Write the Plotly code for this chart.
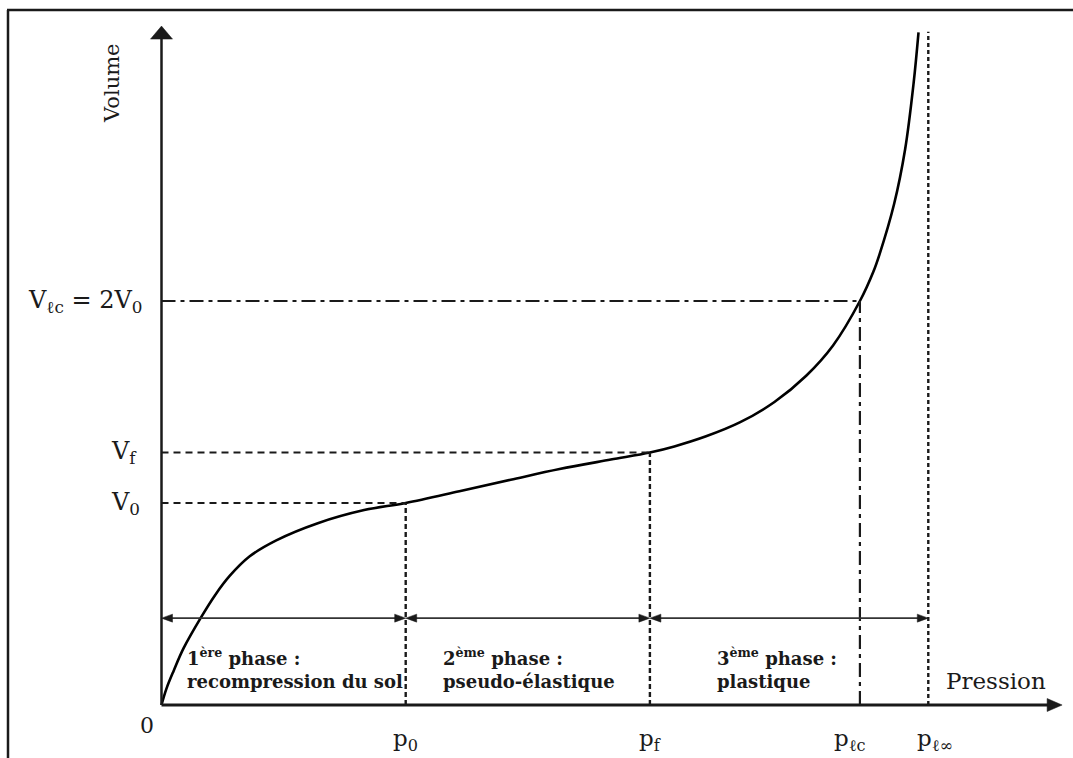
import plotly.graph_objects as go

# Courbe pressiométrique : volume injecté en fonction de la pression
pression = [0.00, 0.02, 0.05, 0.09, 0.16, 0.22, 0.28, 0.36, 0.47, 0.64, 0.83,
            1.00, 1.22, 1.43, 1.63, 1.84, 2.00, 2.10, 2.23, 2.37, 2.51, 2.64,
            2.75, 2.86, 2.915, 2.94, 3.00, 3.045, 3.08, 3.10]
volume = [0.00, 0.08, 0.17, 0.28, 0.43, 0.545, 0.64, 0.735, 0.815, 0.90, 0.965,
          1.00, 1.058, 1.115, 1.168, 1.215, 1.25, 1.28, 1.33, 1.40, 1.50, 1.63,
          1.78, 2.00, 2.145, 2.23, 2.48, 2.75, 3.08, 3.33]

# Pressions et volumes caractéristiques
P0, PF, PLC, PLINF = 1.00, 2.00, 2.86, 3.14
V0, VF, VLC = 1.00, 1.25, 2.00

p_labels = ["p<sub>0</sub>", "p<sub>f</sub>", "p<sub>ℓc</sub>", "p<sub>ℓ∞</sub>"]
v_labels = ["V<sub>0</sub>", "V<sub>f</sub>", "V<sub>ℓc</sub> = 2V<sub>0</sub>"]
phase_labels = ["1<sup>ère</sup> phase :<br>recompression du sol",
                "2<sup>ème</sup> phase :<br>pseudo-élastique",
                "3<sup>ème</sup> phase :<br>plastique"]
phase_bounds = [(0.0, P0), (P0, PF), (PF, PLINF)]

# Géométrie de la figure
W, H = 1073, 758
PX_X, PX_Y = 244.2, 202.0          # pixels par unité
ORX, ORY = 161.5, 705.0            # position de l'origine en pixels
X_RANGE = [-ORX / PX_X, (W - ORX) / PX_X]
Y_RANGE = [-(H - ORY) / PX_Y, ORY / PX_Y]

X_TIP = 3.688      # extrémité de la flèche de l'axe des pressions
Y_TIP = 3.361      # extrémité de la flèche de l'axe des volumes
V_PHASE = 0.43     # hauteur des flèches de phases
INK = "#1a1a1a"

serif = "DejaVu Serif"


def tri(xt, yt, dx, dy, length, half):
    """Triangle plein, pointe en (xt, yt), direction (dx, dy) en pixels (dy vers le haut)."""
    bx, by = -dx * length, -dy * length
    pts = [(0, 0), (bx - dy * half, by + dx * half), (bx + dy * half, by - dx * half)]
    d = "M " + " L ".join(f"{xt + ox / PX_X},{yt + oy / PX_Y}" for ox, oy in pts) + " Z"
    return dict(type="path", path=d, xref="x", yref="y",
                fillcolor=INK, line=dict(color=INK, width=0.5))


def seg(x0, y0, x1, y1, width, dash="solid", color=INK):
    return dict(type="line", xref="x", yref="y", x0=x0, y0=y0, x1=x1, y1=y1,
                line=dict(color=color, width=width, dash=dash))


fig = go.Figure()
fig.add_trace(go.Scatter(x=pression, y=volume, mode="lines",
                         line=dict(color="black", width=2.6, shape="spline", smoothing=1.0),
                         hoverinfo="skip", showlegend=False))

shapes = []
# Cadre
shapes.append(dict(type="line", xref="paper", yref="paper", x0=7 / W, y0=1 - 10 / H, x1=1, y1=1 - 10 / H,
                   line=dict(color=INK, width=2.5)))
shapes.append(dict(type="line", xref="paper", yref="paper", x0=8 / W, y0=0, x1=8 / W, y1=1 - 10 / H,
                   line=dict(color=INK, width=2.5)))

# Axes et flèches
shapes.append(seg(0, 0, X_TIP - 14 / PX_X, 0, 3))
shapes.append(tri(X_TIP, 0, 1, 0, 15, 6.5))
shapes.append(seg(0, 0, 0, Y_TIP - 12 / PX_Y, 2.5))
shapes.append(tri(0, Y_TIP, 0, 1, 13, 11))

# Lignes de rappel
shapes.append(seg(0, V0, P0, V0, 1.8, "7px,5px"))
shapes.append(seg(0, VF, PF, VF, 1.8, "7px,5px"))
shapes.append(seg(0, VLC, PLC, VLC, 1.8, "14px,5px,4px,5px"))
shapes.append(seg(P0, 0, P0, V0, 2.4, "5px,3px"))
shapes.append(seg(PF, 0, PF, VF, 2.4, "5px,3px"))
shapes.append(seg(PLC, 0, PLC, VLC, 2.2, "14px,5px,4px,5px"))
shapes.append(seg(PLINF, 0, PLINF, 3.333, 2.4, "4px,3px"))

# Flèches des phases
for a, b in phase_bounds:
    shapes.append(seg(a + 8 / PX_X, V_PHASE, b - 8 / PX_X, V_PHASE, 1.8, color="#333"))
    shapes.append(tri(a, V_PHASE, -1, 0, 11, 4))
    shapes.append(tri(b, V_PHASE, 1, 0, 11, 4))

annotations = []


def label(x, y, text, size, xanchor="center", yanchor="middle", bold=False, angle=0, xshift=0):
    annotations.append(dict(x=x, y=y, xref="x", yref="y", text=f"<b>{text}</b>" if bold else text,
                            showarrow=False, xanchor=xanchor, yanchor=yanchor, textangle=angle,
                            xshift=xshift, align="left",
                            font=dict(family=serif, size=size, color=INK)))


label(-0.203, 3.079, "Volume", 21, angle=-90)
label(3.204, 0.119, "Pression", 23, xanchor="left")
label(-0.061, -0.099, "0", 22)

for p, t, xs in zip([P0, PF, PLC, PLINF], p_labels, [0, 0, -10, 7]):
    label(p, -0.175, t, 23, xshift=xs)

label(-0.215, V0, v_labels[0], 24, xanchor="left")
label(-0.215, VF, v_labels[1], 24, xanchor="left")
label(-0.555, VLC, v_labels[2], 24, xanchor="left")

for xp, t in zip([0.095, 1.145, 2.265], phase_labels):
    label(xp, 0.18, t, 18, xanchor="left", bold=True)

fig.update_layout(
    width=W, height=H, autosize=False,
    margin=dict(l=0, r=0, t=0, b=0, pad=0),
    paper_bgcolor="white", plot_bgcolor="white",
    xaxis=dict(range=X_RANGE, visible=False, fixedrange=True),
    yaxis=dict(range=Y_RANGE, visible=False, fixedrange=True),
    shapes=shapes, annotations=annotations, showlegend=False,
)

fig.write_html("out.html", config={"displayModeBar": False})
